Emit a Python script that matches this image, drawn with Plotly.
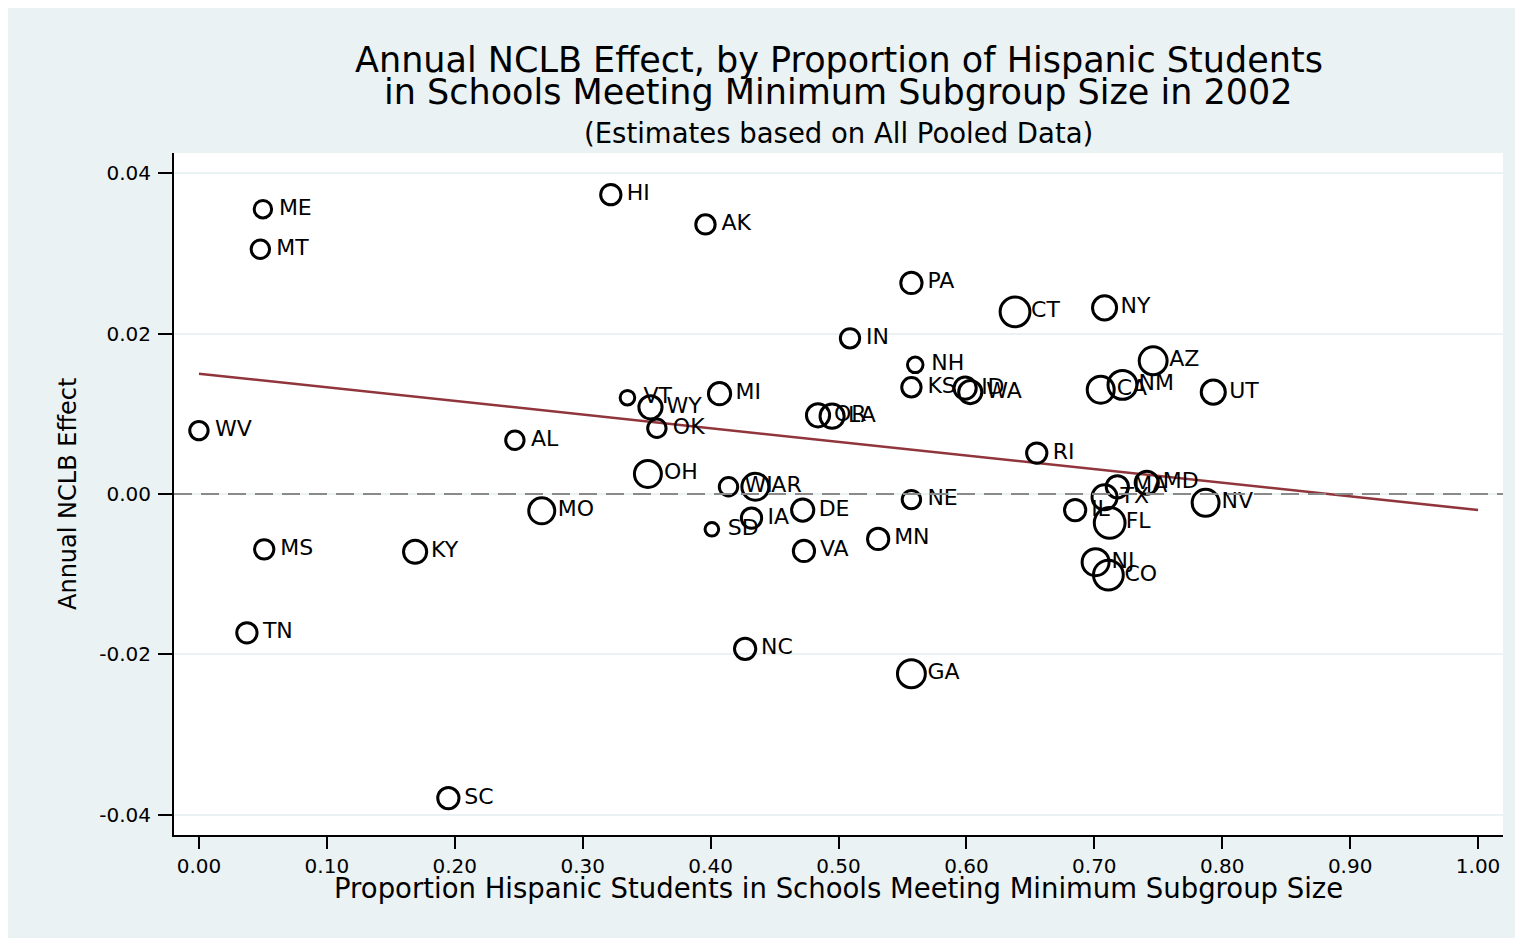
import plotly.graph_objects as go

# ---------------- data ----------------
states = ["ME", "MT", "HI", "AK", "PA", "CT", "NY", "IN", "NH", "KS",
          "ID", "WA", "AZ", "CA", "NM", "UT", "VT", "WY", "MI", "OK",
          "WV", "OR", "LA", "AL", "RI", "OH", "WI", "AR", "MO", "NE",
          "DE", "IA", "SD", "VA", "MN", "MS", "KY", "TN", "NC", "GA",
          "SC", "FL", "NJ", "CO", "NV", "IL", "TX", "MA", "MD"]
prop_hispanic = [0.050, 0.048, 0.322, 0.396, 0.557, 0.638, 0.708, 0.509, 0.560, 0.557,
                 0.599, 0.603, 0.746, 0.705, 0.722, 0.793, 0.335, 0.353, 0.407, 0.358,
                 0.000, 0.484, 0.495, 0.247, 0.655, 0.351, 0.414, 0.435, 0.268, 0.557,
                 0.472, 0.432, 0.401, 0.473, 0.531, 0.051, 0.169, 0.0375, 0.427, 0.557,
                 0.195, 0.712, 0.701, 0.711, 0.787, 0.685, 0.708, 0.718, 0.741]
nclb_effect = [0.0355, 0.0305, 0.0373, 0.0336, 0.0263, 0.0227, 0.0232, 0.0194, 0.0161, 0.0133,
               0.0132, 0.0127, 0.0166, 0.0130, 0.0136, 0.0127, 0.0120, 0.0108, 0.0125, 0.0082,
               0.0079, 0.0098, 0.0097, 0.0067, 0.0051, 0.0025, 0.0009, 0.0009, -0.0021, -0.0007,
               -0.0020, -0.0030, -0.0044, -0.0071, -0.0056, -0.0069, -0.0072, -0.0173, -0.0193, -0.0224,
               -0.0379, -0.0036, -0.0085, -0.0101, -0.0011, -0.0020, -0.0004, 0.0009, 0.0014]
# bubble weights (apparent circle widths, px)
weight = [21, 22, 24, 23, 25, 34, 28, 23, 19, 23,
          26, 27, 32, 31, 33, 28, 18, 27, 26, 22,
          22, 27, 28, 22, 24, 31, 22, 31, 30, 22,
          26, 24, 17, 25, 25, 23, 27, 24, 25, 32,
          25, 35, 31, 34, 31, 25, 29, 26, 27]

# fitted line endpoints
fit_x = [0.0, 1.0]
fit_y = [0.0150, -0.0020]

x_ticks = [0.0, 0.1, 0.2, 0.3, 0.4, 0.5, 0.6, 0.7, 0.8, 0.9, 1.0]
y_ticks = [-0.04, -0.02, 0.0, 0.02, 0.04]

title_line1 = "Annual NCLB Effect, by Proportion of Hispanic Students"
title_line2 = "in Schools Meeting Minimum Subgroup Size in 2002"
subtitle = "(Estimates based on All Pooled Data)"
x_title = "Proportion Hispanic Students in Schools Meeting Minimum Subgroup Size"
y_title = "Annual NCLB Effect"

# ---------------- styles ----------------
FONT = "DejaVu Sans"
BG = "#eaf2f3"
MAROON = "#90353b"
W, H = 1515, 930
PL, PT, PR, PB = 166, 145, 20, 103
plot_w, plot_h = W - PL - PR, H - PT - PB

marker_sizes = [w * 0.95 - 2.5 for w in weight]


def py(pix):  # figure pixel row -> paper y
    return (PT + plot_h - pix) / plot_h


def px(pix):  # figure pixel column -> paper x
    return (pix - PL) / plot_w


fig = go.Figure()

fig.add_trace(go.Scatter(
    x=fit_x, y=fit_y, mode="lines",
    line=dict(color=MAROON, width=2.5),
    hoverinfo="skip", showlegend=False,
))

fig.add_trace(go.Scatter(
    x=prop_hispanic, y=nclb_effect, mode="markers",
    marker=dict(symbol="circle-open", size=marker_sizes, color="black", opacity=1,
                line=dict(width=3, color="black")),
    showlegend=False,
))

fig.add_trace(go.Scatter(
    x=prop_hispanic, y=nclb_effect, mode="markers+text",
    text=states, textposition="middle right",
    textfont=dict(family=FONT, size=22, color="black"),
    marker=dict(size=24, color="rgba(0,0,0,0)"),
    hoverinfo="skip", showlegend=False,
))

fig.update_layout(
    width=W, height=H,
    margin=dict(l=PL, r=PR, t=PT, b=PB),
    paper_bgcolor=BG, plot_bgcolor="white",
    font=dict(family=FONT, color="black"),
    showlegend=False,
    shapes=[
        dict(type="line", xref="paper", yref="y", x0=0, x1=1, y0=0, y1=0,
             line=dict(color="#8a8a8a", width=2, dash="18px,9px"), layer="above"),
    ],
    annotations=[
        dict(text=title_line1, x=0.5, xref="paper", y=py(52), yref="paper", yanchor="middle",
             showarrow=False, font=dict(size=35, family=FONT)),
        dict(text=title_line2, x=0.5, xref="paper", y=py(84), yref="paper", yanchor="middle",
             showarrow=False, font=dict(size=35, family=FONT)),
        dict(text=subtitle, x=0.5, xref="paper", y=py(125), yref="paper", yanchor="middle",
             showarrow=False, font=dict(size=27.5, family=FONT)),
        dict(text=x_title, x=0.5, xref="paper", y=py(880), yref="paper", yanchor="middle",
             showarrow=False, font=dict(size=27.5, family=FONT)),
        dict(text=y_title, x=px(60), xref="paper", xanchor="center", y=0.5, yref="paper",
             showarrow=False, textangle=-90, font=dict(size=24, family=FONT)),
    ],
)

fig.update_xaxes(
    range=[-0.0195, 1.0195], tickvals=x_ticks,
    ticktext=[f"{v:.2f}" for v in x_ticks],
    ticks="outside", ticklen=12, tickwidth=2, tickcolor="black",
    showline=True, linecolor="black", linewidth=2,
    showgrid=False, zeroline=False,
    tickfont=dict(size=20, family=FONT),
)
fig.update_yaxes(
    range=[-0.0425, 0.0425], tickvals=y_ticks,
    ticktext=[f"{v:.2f}" for v in y_ticks],
    ticks="outside", ticklen=14, tickwidth=2, tickcolor="black",
    showline=True, linecolor="black", linewidth=2,
    showgrid=True, gridcolor=BG, gridwidth=2, zeroline=False,
    tickfont=dict(size=20, family=FONT), ticklabelstandoff=3,
)

fig.write_html("out.html")
